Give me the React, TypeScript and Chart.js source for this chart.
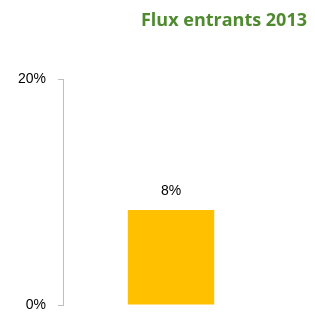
import React, { useEffect, useRef } from "react";
import { Chart, registerables } from "chart.js";

Chart.register(...registerables);

const titleText = "Flux entrants 2013";
const categories = ["Flux entrants 2013"];
const values = [8.4];
const valueLabels = ["8%"];
const yTicks = [0, 20];

const valueLabelPlugin = {
  id: "valueLabel",
  afterDatasetsDraw(chart: any) {
    const ctx = chart.ctx;
    const meta = chart.getDatasetMeta(0);
    ctx.save();
    ctx.font = "14px 'Liberation Sans', Arial, sans-serif";
    ctx.fillStyle = "#000";
    ctx.textAlign = "center";
    ctx.textBaseline = "bottom";
    meta.data.forEach((bar: any, i: number) => {
      ctx.fillText(valueLabels[i], bar.x, bar.y - 12);
    });
    ctx.restore();
  },
};

const titlePlugin = {
  id: "cornerTitle",
  afterDraw(chart: any) {
    const ctx = chart.ctx;
    ctx.save();
    ctx.font = "bold 18px 'Open Sans', sans-serif";
    ctx.fillStyle = "#4F8A2F";
    ctx.textAlign = "right";
    ctx.textBaseline = "middle";
    ctx.fillText(titleText, chart.width - 8, 21);
    ctx.restore();
  },
};

export default function App() {
  const ref = useRef<HTMLCanvasElement>(null);
  useEffect(() => {
    document.body.style.margin = "0";
    const chart = new Chart(ref.current!, {
      type: "bar",
      data: {
        labels: categories,
        datasets: [
          {
            data: values,
            backgroundColor: "#FFC000",
            categoryPercentage: 1,
            barPercentage: 0.4,
          },
        ],
      },
      options: {
        animation: false,
        responsive: false,
        layout: { autoPadding: false, padding: { left: 6, right: 36, top: 79, bottom: 8 } },
        plugins: {
          legend: { display: false },
          tooltip: { enabled: false },
          title: { display: false },
        },
        scales: {
          x: { display: false },
          y: {
            min: 0,
            max: 20,
            afterBuildTicks: (axis: any) => {
              axis.ticks = yTicks.map((v) => ({ value: v }));
            },
            afterFit: (axis: any) => {
              axis.paddingTop = 0;
              axis.paddingBottom = 0;
            },
            ticks: {
              callback: (v: any) => v + "%",
              color: "#000",
              font: { family: "'Liberation Sans', Arial, sans-serif", size: 14 },
              padding: 12,
            },
            grid: {
              display: true,
              drawOnChartArea: false,
              drawTicks: true,
              tickLength: 5,
              color: "#BFBFBF",
            },
            border: { display: true, color: "#BFBFBF" },
          },
        },
      },
      plugins: [valueLabelPlugin, titlePlugin],
    });
    return () => chart.destroy();
  }, []);
  return <canvas ref={ref} width={315} height={313} style={{ display: "block" }} />;
}
